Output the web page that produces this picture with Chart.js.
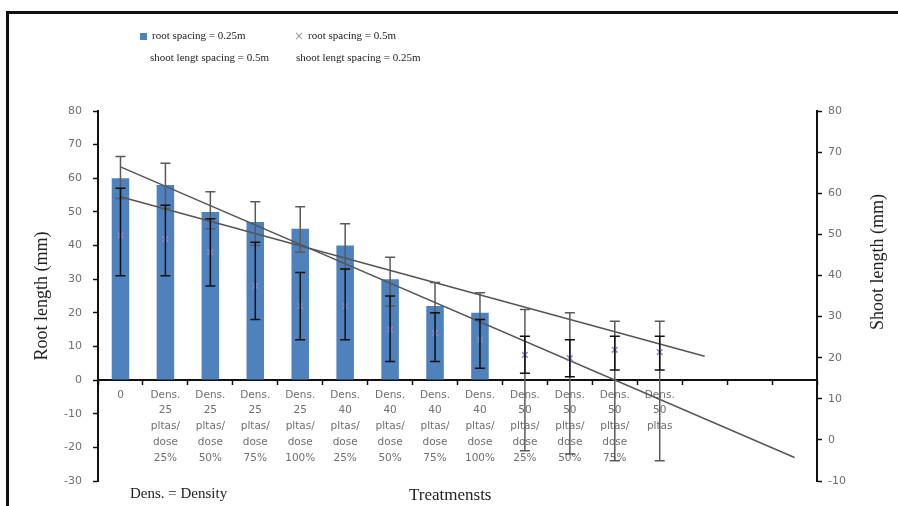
<!DOCTYPE html>
<html>
<head>
<meta charset="utf-8">
<title>Root and shoot length by treatment</title>
<script src="https://cdn.jsdelivr.net/npm/chart.js@4/dist/chart.umd.min.js"></script>
<style>
    body { margin: 0; background: #fff; overflow: hidden; }
    #wrap { position: relative; width: 898px; height: 506px; }
    #frame { position: absolute; left: 6px; top: 11px; right: -10px; bottom: -10px;
             border-left: 3px solid #111; border-top: 3px solid #111; pointer-events: none; }
    .txt { position: absolute; font-family: 'Liberation Serif', serif; color: #222; white-space: nowrap; }
    .lg { font-size: 11px; }
    .box { position: absolute; left: 140px; top: 33px; width: 7px; height: 7px; background: #4f81bd; }
    .cross { position: absolute; left: 294px; top: 29px; font-family: 'DejaVu Sans', sans-serif;
             font-size: 12px; color: #999; }
    .vtitle { position: absolute; font-family: 'Liberation Serif', serif; font-size: 18px; color: #222;
              white-space: nowrap; transform: translate(-50%, -50%) rotate(-90deg); }
</style>
</head>
<body>
<div id="wrap">
    <canvas id="rootChart"></canvas>
    <div id="frame"></div>
    <div class="box"></div>
    <div class="txt lg" style="left:152px; top:29px;">root spacing = 0.25m</div>
    <div class="txt lg" style="left:150px; top:51px;">shoot lengt spacing = 0.5m</div>
    <div class="cross">×</div>
    <div class="txt lg" style="left:308px; top:29px;">root spacing = 0.5m</div>
    <div class="txt lg" style="left:296px; top:51px;">shoot lengt spacing = 0.25m</div>
    <div class="vtitle" style="left:877px; top:262px;">Shoot length (mm)</div>
    <div class="txt" style="left:130px; top:485px; font-size:15px;">Dens. = Density</div>
    <div class="txt" style="left:409px; top:485px; font-size:17px;">Treatmensts</div>
</div>
<script>
// Categories (last three slots are empty on the axis)
const treatments = [
    '0',
    ['Dens.', '25', 'pltas/', 'dose', '25%'],
    ['Dens.', '25', 'pltas/', 'dose', '50%'],
    ['Dens.', '25', 'pltas/', 'dose', '75%'],
    ['Dens.', '25', 'pltas/', 'dose', '100%'],
    ['Dens.', '40', 'pltas/', 'dose', '25%'],
    ['Dens.', '40', 'pltas/', 'dose', '50%'],
    ['Dens.', '40', 'pltas/', 'dose', '75%'],
    ['Dens.', '40', 'pltas/', 'dose', '100%'],
    ['Dens.', '50', 'pltas/', 'dose', '25%'],
    ['Dens.', '50', 'pltas/', 'dose', '50%'],
    ['Dens.', '50', 'pltas/', 'dose', '75%'],
    ['Dens.', '50', 'pltas'],
    '', '', ''
];

// root spacing = 0.25m (bars)
const rootNarrow = [60, 58, 50, 47, 45, 40, 30, 22, 20, null, null, null, null, null, null, null];
// root spacing = 0.5m (crosses)
const rootWide = [43, 42, 38, 28, 22, 22, 15, 14, 12, 7.5, 6.5, 9, 8.3, null, null, null];

// error ranges
const barErrTop    = [66.5, 64.5, 56, 53, 51.5, 46.5, 36.5, 29, 26, 21, 20, 17.5, 17.5];
const barErrBottom = [54, 51, 45, 40, 38, 33, 22, 20, 18, -21, -22, -24, -24];
const crossErrTop    = [57, 52, 48, 41, 32, 33, 25, 20, 18, 13, 12, 13, 13];
const crossErrBottom = [31, 31, 28, 18, 12, 12, 5.5, 5.5, 3.5, 2, 1, 3, 3];

// trend lines (end points only)
const trendNarrow = [63.4, null, null, null, null, null, null, null, null, null, null, null, null, null, null, -23];
const trendWide = [54.5, null, null, null, null, null, null, null, null, null, null, null, null, 7.1, null, null];

const leftTicks = { min: -30, max: 80, step: 10 };
const rightTicks = { min: -10, max: 80, step: 10 };

// Draws the error bars on top of the bars
const errorBars = {
    id: 'errorBars',
    afterDatasetsDraw(chart) {
        const ctx = chart.ctx;
        const xs = chart.scales.x;
        const ys = chart.scales.y;
        const draw = (tops, bottoms, color) => {
            ctx.save();
            ctx.strokeStyle = color;
            ctx.lineWidth = 1.5;
            tops.forEach((top, i) => {
                const x = xs.getPixelForValue(i);
                const y1 = ys.getPixelForValue(top);
                const y2 = ys.getPixelForValue(bottoms[i]);
                ctx.beginPath();
                ctx.moveTo(x, y1); ctx.lineTo(x, y2);
                ctx.moveTo(x - 5, y1); ctx.lineTo(x + 5, y1);
                ctx.moveTo(x - 5, y2); ctx.lineTo(x + 5, y2);
                ctx.stroke();
            });
            ctx.restore();
        };
        draw(barErrTop, barErrBottom, '#5a5a5a');
        draw(crossErrTop, crossErrBottom, '#111');
    }
};

const tickFont = { family: "'DejaVu Sans', sans-serif", size: 10.5, lineHeight: 1.5 };
const titleFont = { family: "'Liberation Serif', serif", size: 18 };

new Chart(document.getElementById('rootChart'), {
    data: {
        labels: treatments,
        datasets: [
            {
                type: 'bar',
                label: 'root spacing = 0.25m',
                data: rootNarrow,
                backgroundColor: '#4f81bd',
                barPercentage: 0.39,
                categoryPercentage: 1,
                order: 3
            },
            {
                type: 'line',
                label: 'trend 0.25m',
                data: trendNarrow,
                spanGaps: true,
                borderColor: '#555',
                borderWidth: 1.5,
                pointRadius: 0,
                order: 2
            },
            {
                type: 'line',
                label: 'trend 0.5m',
                data: trendWide,
                spanGaps: true,
                borderColor: '#555',
                borderWidth: 1.5,
                pointRadius: 0,
                order: 2
            },
            {
                type: 'line',
                label: 'root spacing = 0.5m',
                data: rootWide,
                showLine: false,
                pointStyle: 'crossRot',
                pointRadius: 4,
                borderColor: '#8c8cc8',
                borderWidth: 1.5,
                order: 1
            }
        ]
    },
    options: {
        responsive: true,
        maintainAspectRatio: false,
        animation: false,
        layout: { padding: { left: 24, right: 0, top: 111, bottom: 25 } },
        plugins: {
            legend: { display: false },
            tooltip: { enabled: false }
        },
        scales: {
            x: {
                position: { y: 0 },
                grid: { drawOnChartArea: false, drawTicks: true, tickLength: 4, tickColor: '#111', tickWidth: 1.5 },
                border: { color: '#111', width: 2 },
                ticks: { color: '#6f6f6f', font: tickFont, padding: 3, maxRotation: 0, autoSkip: false }
            },
            y: {
                position: 'left',
                min: leftTicks.min,
                max: leftTicks.max,
                afterFit: scale => { scale.width = 74; },
                grid: { drawOnChartArea: false, tickLength: 5, tickColor: '#111', tickWidth: 1.5 },
                border: { color: '#111', width: 2 },
                ticks: { stepSize: leftTicks.step, color: '#6f6f6f', font: { family: "'DejaVu Sans', sans-serif", size: 11 }, padding: 11 },
                title: { display: true, text: 'Root length (mm)', color: '#222', font: titleFont, padding: { top: 7, bottom: 0 } }
            },
            y2: {
                position: 'right',
                min: rightTicks.min,
                max: rightTicks.max,
                afterFit: scale => { scale.width = 81; },
                grid: { drawOnChartArea: false, tickLength: 5, tickColor: '#111', tickWidth: 1.5 },
                border: { color: '#111', width: 2 },
                ticks: { stepSize: rightTicks.step, color: '#6f6f6f', font: { family: "'DejaVu Sans', sans-serif", size: 11 }, padding: 6 }
            }
        }
    },
    plugins: [errorBars]
});
</script>
</body>
</html>
